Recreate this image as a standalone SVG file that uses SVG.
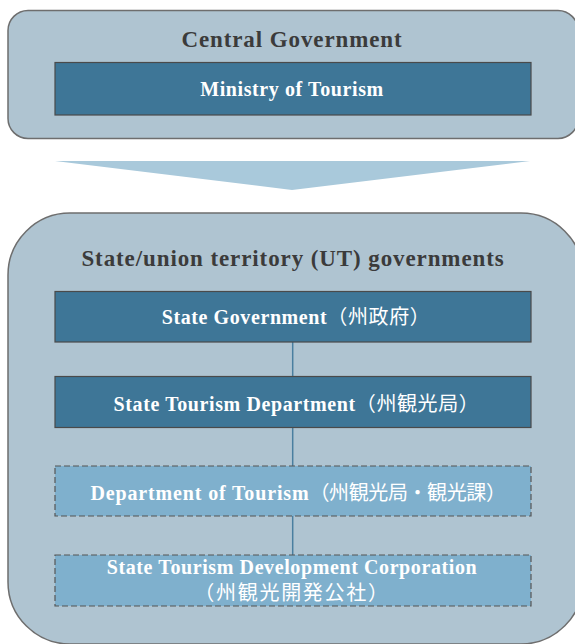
<svg xmlns="http://www.w3.org/2000/svg" width="575" height="644" viewBox="0 0 575 644">
<style>
.container{fill:#afc4d1;stroke:#6e6e6e;stroke-width:1.5}
.dark{fill:#3e7697;stroke:#4a4a4a;stroke-width:1.2}
.light{fill:#7fb0cd;stroke:#555;stroke-width:1.2;stroke-dasharray:6 3}
.hdr{font-family:"Liberation Serif","Noto Sans CJK JP",serif;font-weight:bold;font-size:23px;fill:#3b3b3b;text-anchor:middle;letter-spacing:0.9px}
.lbl{font-family:"Liberation Serif","Noto Sans CJK JP",serif;font-weight:bold;font-size:20px;fill:#ffffff;text-anchor:middle;letter-spacing:0.6px}
.cjk{font-family:"Noto Sans CJK JP",sans-serif;font-weight:normal}
.conn{stroke:#4a7fa0;stroke-width:1.5;fill:none}
</style>
<rect width="575" height="644" fill="#ffffff"/>
<g id="central-government">
<rect class="container" x="8" y="10.5" width="570" height="128" rx="20"/>
<text class="hdr" x="292" y="47">Central Government</text>
</g>
<g id="ministry-of-tourism">
<rect class="dark" x="55" y="62.5" width="476" height="52.5"/>
<text class="lbl" x="292" y="96">Ministry of Tourism</text>
</g>
<g id="flow-arrow">
<polygon points="55,161 530,161 292,190" fill="#a9c9db"/>
</g>
<g id="state-ut-governments">
<rect class="container" x="8" y="213" width="575" height="431" rx="62"/>
<text class="hdr" x="293" y="266">State/union territory (UT) governments</text>
</g>
<g id="connectors">
<line class="conn" x1="292.7" y1="342" x2="292.7" y2="376"/>
<line class="conn" x1="292.7" y1="428" x2="292.7" y2="466"/>
<line class="conn" x1="292.7" y1="516" x2="292.7" y2="555"/>
</g>
<g id="state-government">
<rect class="dark" x="55" y="291.5" width="476" height="50.5"/>
<text class="lbl" x="296" y="324">State Government<tspan class="cjk">（州政府）</tspan></text>
</g>
<g id="state-tourism-department">
<rect class="dark" x="55" y="376.5" width="476" height="51"/>
<text class="lbl" x="296.5" y="411">State Tourism Department<tspan class="cjk">（州観光局）</tspan></text>
</g>
<g id="department-of-tourism">
<rect class="light" x="55" y="466" width="476" height="50"/>
<text class="lbl" x="298" y="500" style="letter-spacing:0.85px">Department of Tourism<tspan class="cjk" style="letter-spacing:-0.4px">（州観光局・観光課）</tspan></text>
</g>
<g id="state-tourism-development-corporation">
<rect class="light" x="55" y="555" width="476" height="51"/>
<text class="lbl" x="292" y="574">State Tourism Development Corporation</text>
<text class="lbl cjk" x="292" y="600" style="letter-spacing:1.7px">（州観光開発公社）</text>
</g>
</svg>
